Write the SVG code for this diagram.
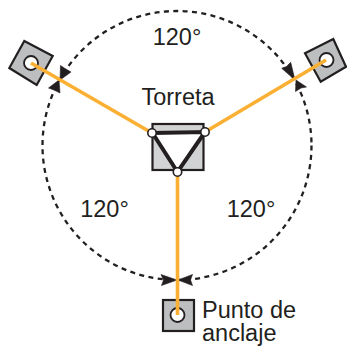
<svg xmlns="http://www.w3.org/2000/svg" width="347" height="347" viewBox="0 0 347 347">
<style>
.sq{fill:#bcbec0;stroke:#231f20;stroke-width:2.2}
.hole{fill:#fff;stroke:#231f20;stroke-width:1.8}
.rope{stroke:#fbb034;stroke-width:3.6;fill:none}
.dash{fill:none;stroke:#231f20;stroke-width:2.3;stroke-dasharray:5 4.4}
.ah{fill:#231f20;stroke:#231f20;stroke-width:.6;stroke-linejoin:miter}
.pin{fill:#fff;stroke:#231f20;stroke-width:1.6}
text{font-family:"Liberation Sans",Arial,sans-serif;fill:#231f20;font-size:23.5px}
</style>
<g id="arc"><circle class="dash" cx="177" cy="145.5" r="134.5"/></g>
<g id="anchor-left"><polygon class="sq" points="24.3,41 52.7,56 36.7,85 9.3,68"/><circle class="hole" cx="31" cy="63" r="7"/></g>
<g id="anchor-right"><polygon class="sq" points="305,53.3 333.3,39 346,66.7 320.7,81.7"/><circle class="hole" cx="326.5" cy="60" r="7"/></g>
<g id="anchor-bottom"><rect class="sq" x="163" y="300" width="31" height="31"/><circle class="hole" cx="177.5" cy="315" r="7"/></g>
<g id="turret">
<rect x="152.5" y="124" width="51" height="46" fill="#d1d3d4" stroke="#231f20" stroke-width="2.2"/>
<polygon points="152.5,133 205,132 177.5,172" fill="#fff" stroke="#231f20" stroke-width="4"/>
</g>
<g id="connectors">
<polygon class="ah" points="60,80 60.5,65.5 65,68.5 71,72"/>
<polygon class="ah" points="59,80 48.5,88 54,90 60,93"/>
<polygon class="ah" points="295,80 281.7,68.3 286.5,66.5 290.7,62.3"/>
<polygon class="ah" points="296,80 295.5,91.5 301,88 306.5,87"/>
<polygon class="ah" points="177,280 161,274.5 163.5,280 161.5,285.5"/>
<polygon class="ah" points="178,280 192.5,274.5 190.5,280 192.5,285.5"/>
<line class="rope" x1="31" y1="63" x2="152" y2="133"/>
<line class="rope" x1="326" y1="60" x2="205" y2="132"/>
<line class="rope" x1="177.5" y1="172" x2="177.5" y2="315"/>
</g>
<g id="pins">
<circle class="pin" cx="152" cy="133" r="4.2"/>
<circle class="pin" cx="205" cy="132" r="4.2"/>
<circle class="pin" cx="177.5" cy="172" r="4.2"/>
</g>
<g id="labels">
<text x="177" y="45" text-anchor="middle">120°</text>
<text x="178" y="105" text-anchor="middle">Torreta</text>
<text x="104.5" y="217" text-anchor="middle">120°</text>
<text x="251" y="217" text-anchor="middle">120°</text>
<text><tspan x="202" y="318">Punto de</tspan><tspan x="202" y="341">anclaje</tspan></text>
</g>
</svg>
